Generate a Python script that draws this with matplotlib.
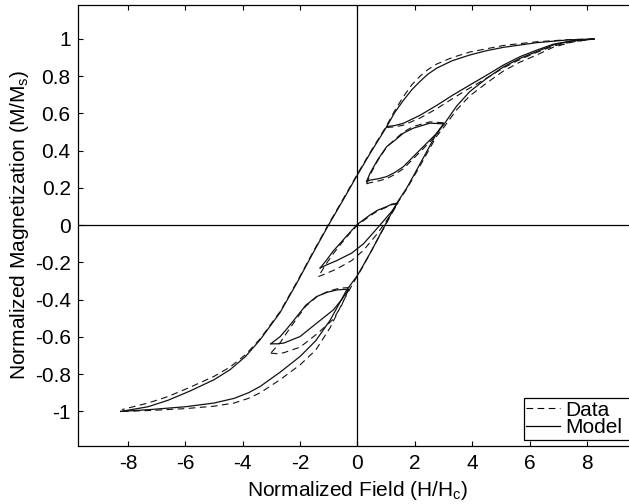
import matplotlib
matplotlib.use('Agg')
from matplotlib import pyplot as plt
from matplotlib.lines import Line2D
from matplotlib.patches import Rectangle

plt.rcParams['font.family'] = ['Liberation Sans', 'DejaVu Sans']
plt.rcParams['mathtext.fontset'] = 'custom'
plt.rcParams['mathtext.rm'] = 'Liberation Sans'
plt.rcParams['mathtext.default'] = 'regular'
plt.rcParams['axes.unicode_minus'] = False

# ---- model (solid) ----
# major loop, descending branch
model_up_x = [8.25, 7.35, 6.25, 5.09, 4.5, 3.92, 3.3, 2.76, 2.45, 2.18, 1.9, 1.60, 1.30, 1.02, 0.44, 0.0,
              -0.50, -1.01, -1.55, -2.11, -2.70, -3.39, -3.9, -4.44, -5.0, -5.83, -6.6, -7.3, -8.25]
model_up_y = [1.0, 0.995, 0.98, 0.955, 0.937, 0.914, 0.883, 0.843, 0.81, 0.772, 0.728, 0.67, 0.605, 0.529, 0.385, 0.27,
              0.135, 0.0, -0.15, -0.31, -0.47, -0.615, -0.705, -0.776, -0.83, -0.89, -0.94, -0.975, -1.0]
# major loop, ascending branch
model_low_x = [-8.25, -7.22, -6.0, -5.0, -4.3, -3.8, -3.39, -2.7, -2.0, -1.45, -0.95, -0.37, 0.0, 0.5, 0.96, 1.37,
               1.72, 2.15, 2.76, 3.0, 3.46, 3.92, 4.51, 5.09, 5.67, 6.25, 6.83, 7.5, 8.25]
model_low_y = [-1.0, -0.99, -0.975, -0.955, -0.93, -0.9, -0.866, -0.79, -0.705, -0.62, -0.51, -0.347, -0.27, -0.135, 0.0, 0.118,
               0.20, 0.32, 0.493, 0.538, 0.64, 0.718, 0.789, 0.85, 0.896, 0.932, 0.968, 0.99, 1.0]
# reversal curve from the descending branch back to saturation
model_rev_x = [1.02, 1.30, 1.60, 2.18, 2.76, 3.34, 3.92, 4.51, 5.09, 5.67, 6.25, 6.83, 7.5, 8.25]
model_rev_y = [0.529, 0.535, 0.547, 0.59, 0.643, 0.70, 0.753, 0.806, 0.86, 0.905, 0.94, 0.972, 0.99, 1.0]
# minor loop A (upper right)
model_a_dn_x = [3.0, 2.53, 1.95, 1.60, 1.30, 1.02, 0.70, 0.44, 0.32]
model_a_dn_y = [0.544, 0.548, 0.521, 0.494, 0.455, 0.422, 0.35, 0.279, 0.236]
model_a_up_x = [0.32, 0.44, 0.75, 1.02, 1.30, 1.60, 2.18, 2.76, 3.0]
model_a_up_y = [0.234, 0.242, 0.25, 0.261, 0.283, 0.314, 0.404, 0.493, 0.544]
# minor loop C (around origin)
model_c_dn_x = [1.40, 1.20, 1.02, 0.70, 0.44, 0.0, -0.30, -0.60, -0.85, -1.07, -1.30]
model_c_dn_y = [0.118, 0.113, 0.10, 0.08, 0.055, 0.005, -0.045, -0.097, -0.14, -0.186, -0.23]
model_c_up_x = [-1.30, -1.10, -0.72, -0.20, 0.21, 0.67, 0.95, 1.20, 1.40]
model_c_up_y = [-0.23, -0.215, -0.19, -0.15, -0.10, -0.02, 0.03, 0.075, 0.118]
# minor loop D (lower left)
model_d_dn_x = [-0.31, -0.50, -0.72, -1.05, -1.42, -1.80, -2.11, -2.45, -2.69, -3.02]
model_d_dn_y = [-0.345, -0.345, -0.348, -0.36, -0.383, -0.43, -0.49, -0.555, -0.598, -0.637]
model_d_up_x = [-3.02, -2.80, -2.57, -2.0, -1.42, -0.84, -0.55, -0.31]
model_d_up_y = [-0.637, -0.637, -0.633, -0.598, -0.526, -0.455, -0.40, -0.345]

# ---- measured data (dashed) ----
data_up_x = [8.25, 7.35, 6.25, 5.09, 3.92, 3.3, 2.76, 2.45, 2.18, 1.9, 1.60, 1.30, 1.02, 0.44, 0.0, -0.50, -1.01,
             -1.55, -2.11, -2.70, -3.39, -3.9, -4.44, -5.0, -5.83, -6.6, -7.3, -8.2]
data_up_y = [1.0, 0.996, 0.985, 0.965, 0.93, 0.9, 0.865, 0.835, 0.8, 0.755, 0.69, 0.615, 0.535, 0.39, 0.275, 0.14, 0.005,
             -0.145, -0.305, -0.465, -0.61, -0.695, -0.762, -0.812, -0.87, -0.92, -0.955, -0.99]
data_low_x = [-8.2, -7.22, -6.0, -5.0, -4.3, -3.8, -3.39, -2.7, -2.0, -1.45, -0.95, -0.5, -0.2, 0.2, 0.6, 0.96,
              1.37, 1.72, 2.15, 2.76, 3.0, 3.46, 3.92, 4.51, 5.09, 5.67, 6.25, 6.83, 7.5, 8.25]
data_low_y = [-1.0, -0.995, -0.985, -0.972, -0.955, -0.93, -0.90, -0.83, -0.75, -0.67, -0.55, -0.41, -0.325, -0.22, -0.105, -0.005,
              0.113, 0.195, 0.31, 0.478, 0.523, 0.62, 0.695, 0.764, 0.828, 0.876, 0.914, 0.956, 0.984, 1.0]
data_rev_x = [1.02, 1.30, 1.60, 2.18, 2.76, 3.34, 3.92, 4.51, 5.09, 5.67, 6.25, 6.83, 7.5, 8.25]
data_rev_y = [0.525, 0.528, 0.537, 0.575, 0.625, 0.682, 0.737, 0.79, 0.845, 0.89, 0.928, 0.962, 0.985, 1.0]
data_a_dn_x = [3.0, 2.53, 1.95, 1.60, 1.30, 1.02, 0.70, 0.44, 0.32]
data_a_dn_y = [0.55, 0.555, 0.53, 0.50, 0.46, 0.42, 0.345, 0.27, 0.222]
data_a_up_x = [0.32, 0.44, 0.75, 1.02, 1.30, 1.60, 2.18, 2.76, 3.0]
data_a_up_y = [0.222, 0.228, 0.238, 0.25, 0.272, 0.303, 0.393, 0.485, 0.55]
data_c_dn_x = [1.40, 1.20, 1.02, 0.70, 0.44, 0.0, -0.30, -0.60, -0.85, -1.10, -1.36]
data_c_dn_y = [0.115, 0.11, 0.097, 0.076, 0.05, 0.0, -0.05, -0.105, -0.155, -0.21, -0.276]
data_c_up_x = [-1.36, -1.10, -0.72, -0.20, 0.21, 0.67, 0.95, 1.20, 1.40]
data_c_up_y = [-0.276, -0.26, -0.235, -0.19, -0.135, -0.05, 0.01, 0.065, 0.115]
data_d_dn_x = [-0.28, -0.50, -0.72, -1.05, -1.42, -1.80, -2.11, -2.45, -2.69, -3.02]
data_d_dn_y = [-0.335, -0.337, -0.342, -0.357, -0.385, -0.435, -0.50, -0.575, -0.63, -0.687]
data_d_up_x = [-3.02, -2.80, -2.57, -2.0, -1.42, -0.84, -0.55, -0.28]
data_d_up_y = [-0.687, -0.69, -0.685, -0.655, -0.585, -0.505, -0.43, -0.335]

x_ticks = [-8, -6, -4, -2, 0, 2, 4, 6, 8]
y_ticks = [-1, -0.8, -0.6, -0.4, -0.2, 0, 0.2, 0.4, 0.6, 0.8, 1]
y_tick_labels = ['-1', '-0.8', '-0.6', '-0.4', '-0.2', '0', '0.2', '0.4', '0.6', '0.8', '1']

model_curves = [(model_up_x, model_up_y), (model_low_x, model_low_y), (model_rev_x, model_rev_y),
                (model_a_dn_x, model_a_dn_y), (model_a_up_x, model_a_up_y),
                (model_c_dn_x, model_c_dn_y), (model_c_up_x, model_c_up_y),
                (model_d_dn_x, model_d_dn_y), (model_d_up_x, model_d_up_y)]
data_curves = [(data_up_x, data_up_y), (data_low_x, data_low_y), (data_rev_x, data_rev_y),
               (data_a_dn_x, data_a_dn_y), (data_a_up_x, data_a_up_y),
               (data_c_dn_x, data_c_dn_y), (data_c_up_x, data_c_up_y),
               (data_d_dn_x, data_d_dn_y), (data_d_up_x, data_d_up_y)]

FS = 15

fig = plt.figure(figsize=(6.29, 5.04), dpi=100)
# right edge of the axes falls just outside the picture, as in the original
ax = fig.add_axes([0.1235, 0.1157, 0.8895, 0.875])

ax.axhline(0, color='k', linewidth=0.9)
ax.axvline(0, color='k', linewidth=0.9)

DASH = (6, 4)
for cx, cy in data_curves:
    ax.plot(cx, cy, color='#111111', linewidth=0.8, dashes=DASH)
for cx, cy in model_curves:
    ax.plot(cx, cy, color='#111111', linewidth=0.9)

ax.set_xlim(-9.75, 9.75)
ax.set_ylim(-1.184, 1.184)
ax.set_xticks(x_ticks)
ax.set_xticklabels([str(t) for t in x_ticks])
ax.set_yticks(y_ticks)
ax.set_yticklabels(y_tick_labels)
ax.tick_params(direction='in', length=3.8, width=0.8, top=True, right=True,
               labelsize=FS, colors='k')
ax.tick_params(axis='x', pad=6)
ax.tick_params(axis='y', pad=5)
for s in ax.spines.values():
    s.set_linewidth(0.9)

ax.set_xlabel('Normalized Field (H/H$_c$)', fontsize=FS, labelpad=4)
ax.set_ylabel('Normalized Magnetization (M/M$_s$)', fontsize=FS, labelpad=3)

# legend box drawn by hand so that its right side runs off the picture
ax.add_patch(Rectangle((0.7977, 0.0129), 0.3, 0.0952, transform=ax.transAxes,
                       facecolor='white', edgecolor='k', linewidth=0.9, zorder=4))
handles = [Line2D([], [], color='k', linewidth=0.8, dashes=DASH),
           Line2D([], [], color='k', linewidth=0.9)]
leg = ax.legend(handles, ['Data', 'Model'], loc='lower left',
                bbox_to_anchor=(0.7977, 0.0129), borderaxespad=0,
                fontsize=FS, frameon=False, borderpad=0.12, labelspacing=-0.05,
                handlelength=1.6, handletextpad=0.25)
leg.set_zorder(5)

plt.savefig('out.png', dpi=100)
